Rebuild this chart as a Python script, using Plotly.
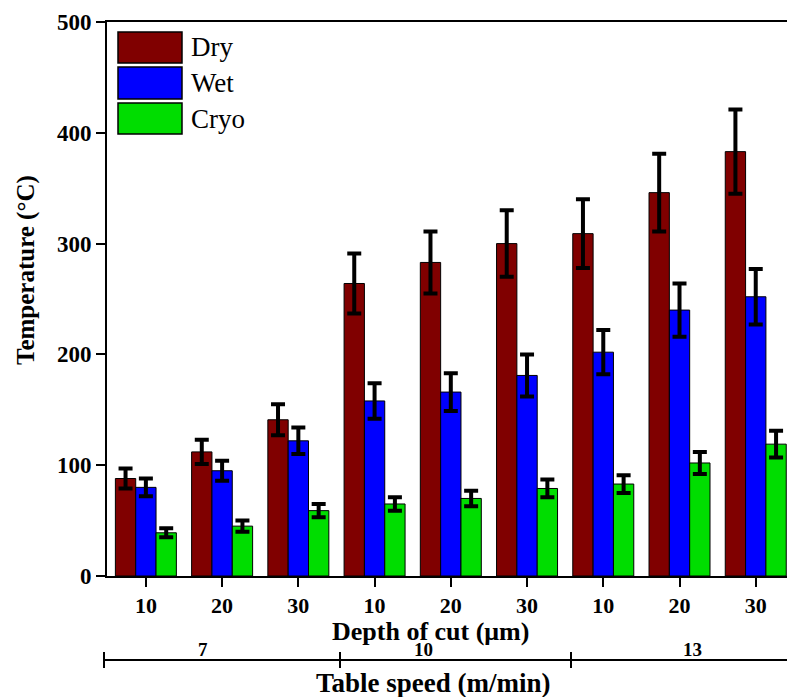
import plotly.graph_objects as go

depth_labels = ["10", "20", "30", "10", "20", "30", "10", "20", "30"]
speed_labels = ["7", "10", "13"]

dry = [88, 112, 141, 264, 283, 300, 309, 346, 383]
dry_err = [9, 11, 14, 27, 28, 30, 31, 35, 38]
wet = [80, 95, 122, 158, 166, 181, 202, 240, 252]
wet_err = [8, 9, 12, 16, 17, 19, 20, 24, 25]
cryo = [39, 45, 59, 65, 70, 79, 83, 102, 119]
cryo_err = [4, 5, 6, 6, 7, 8, 8, 10, 12]

series = [("Dry", dry, dry_err, "#800000"),
          ("Wet", wet, wet_err, "#0000FF"),
          ("Cryo", cryo, cryo_err, "#00DD00")]

FONT = "Liberation Serif"
x = list(range(len(depth_labels)))

fig = go.Figure()
for name, vals, errs, col in series:
    fig.add_trace(go.Bar(
        x=x, y=vals, name=name,
        marker=dict(color=col, line=dict(color="black", width=1)),
        error_y=dict(type="data", array=errs, visible=True,
                     color="black", thickness=4, width=7),
        showlegend=False,
    ))

W, H = 787, 697
PLOT_L, PLOT_T, PLOT_B = 107, 22, 576  # pixel positions of the plot area
L, T, B, R = PLOT_L, PLOT_T, H - PLOT_B, 0
pw, ph = W - L - R, H - T - B

def px(xp):
    return (xp - L) / pw

def py(yp):
    return (H - B - yp) / ph

fig.update_layout(
    width=W, height=H,
    margin=dict(l=L, r=R, t=T, b=B, pad=0),
    paper_bgcolor="white", plot_bgcolor="white",
    barmode="group", bargap=0.2, bargroupgap=0,
    font=dict(family=FONT, color="black"),
    xaxis=dict(
        range=[-0.51, 8.41], tickvals=x, ticktext=depth_labels,
        showline=True, linecolor="black", linewidth=2, mirror=True,
        ticks="outside", ticklen=9, tickwidth=2, tickcolor="black",
        tickfont=dict(family=FONT, size=22, color="black", weight="bold"),
        showgrid=False, zeroline=False, automargin=False,
    ),
    yaxis=dict(
        range=[0, 500], tickvals=[0, 100, 200, 300, 400, 500],
        showline=True, linecolor="black", linewidth=2,
        ticks="outside", ticklen=9, tickwidth=2, tickcolor="black",
        tickfont=dict(family=FONT, size=23, color="black", weight="bold"),
        showgrid=False, zeroline=False, automargin=False,
    ),
)

shapes = []
annotations = []

# custom legend
legend_rows = [(32, 63), (67, 99), (103, 134)]
for (name, _, _, col), (y0, y1) in zip(series, legend_rows):
    shapes.append(dict(type="rect", xref="paper", yref="paper",
                       x0=px(118), x1=px(182), y0=py(y1), y1=py(y0),
                       fillcolor=col, line=dict(color="black", width=1.5)))
    annotations.append(dict(text=name, xref="paper", yref="paper",
                            x=px(189), y=py((y0 + y1) / 2), xanchor="left", yanchor="middle",
                            showarrow=False, font=dict(family=FONT, size=27, color="black")))

# axis titles
annotations.append(dict(text="<b>Temperature (°C)</b>", xref="paper", yref="paper",
                        x=px(26), y=py(270), textangle=-90, xanchor="center", yanchor="middle",
                        showarrow=False, font=dict(family=FONT, size=25, color="black")))
annotations.append(dict(text="<b>Depth of cut (μm)</b>", xref="paper", yref="paper",
                        x=px(430), y=py(631), xanchor="center", yanchor="middle",
                        showarrow=False, font=dict(family=FONT, size=26, color="black")))
annotations.append(dict(text="<b>Table speed (m/min)</b>", xref="paper", yref="paper",
                        x=px(433), y=py(683), xanchor="center", yanchor="middle",
                        showarrow=False, font=dict(family=FONT, size=27, color="black")))

# table speed secondary axis
line_y = 660
shapes.append(dict(type="line", xref="paper", yref="paper",
                   x0=px(104), x1=1.0, y0=py(line_y), y1=py(line_y),
                   line=dict(color="black", width=2)))
for tx in [104, 340, 571]:
    shapes.append(dict(type="line", xref="paper", yref="paper",
                       x0=px(tx), x1=px(tx), y0=py(line_y - 8), y1=py(line_y + 8),
                       line=dict(color="black", width=2)))
for lab, lx in zip(speed_labels, [203, 423, 692]):
    annotations.append(dict(text="<b>" + lab + "</b>", xref="paper", yref="paper",
                            x=px(lx), y=py(649), xanchor="center", yanchor="middle",
                            showarrow=False, font=dict(family=FONT, size=19, color="black")))

fig.update_layout(shapes=shapes, annotations=annotations)
fig.write_html(
    "out.html",
    config={"displayModeBar": False},
    post_script="document.body.style.margin='0';document.body.style.overflow='hidden';",
)
